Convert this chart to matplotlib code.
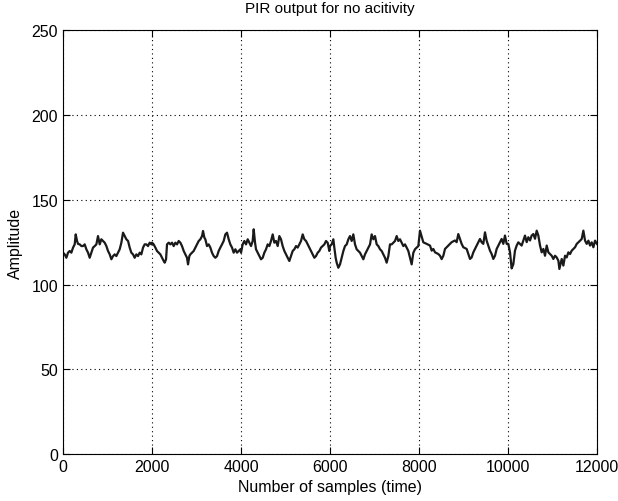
import matplotlib
matplotlib.use("Agg")
import matplotlib.pyplot as plt
import numpy as np

plt.rcParams['font.family'] = ['Liberation Sans', 'DejaVu Sans']

title = "PIR output for no acitivity"
xlabel = "Number of samples (time)"
ylabel = "Amplitude"
xticks = [0, 2000, 4000, 6000, 8000, 10000, 12000]
yticks = [0, 50, 100, 150, 200, 250]

# samples 0-2000
seg1_x = [0, 37, 75, 112, 150, 187, 225, 262, 285, 315, 337, 375, 412, 449, 487, 524, 562, 599, 637, 674,
          712, 749, 786, 824, 861, 899, 936, 974, 1011, 1049, 1086, 1124, 1161, 1198, 1236, 1273, 1311, 1348,
          1386, 1423, 1461, 1498, 1535, 1573, 1610, 1648, 1685, 1723, 1760, 1798, 1835, 1873, 1910, 1947, 1985]
seg1_y = [118.8, 117.8, 115.8, 118.8, 119.8, 118.8, 121.8, 123.7, 129.6, 125.7, 124.0, 123.7, 122.7, 122.7,
          123.7, 120.8, 118.8, 115.8, 118.8, 121.8, 122.7, 123.7, 128.6, 123.7, 126.7, 125.7, 124.7, 122.7,
          119.8, 117.8, 114.9, 116.8, 117.8, 116.8, 118.8, 120.8, 124.7, 130.6, 128.6, 126.7, 125.7, 121.8,
          118.8, 117.8, 115.8, 117.8, 116.8, 118.8, 117.8, 121.8, 123.7, 123.7, 122.7, 124.7, 123.7]

# samples 2000-4000
seg2_x = [2000, 2037, 2075, 2112, 2150, 2187, 2225, 2262, 2285, 2315, 2337, 2375, 2412, 2449, 2487, 2524,
          2562, 2599, 2637, 2674, 2712, 2749, 2786, 2809, 2839, 2861, 2899, 2936, 2974, 3011, 3049, 3086,
          3124, 3146, 3176, 3198, 3236, 3273, 3311, 3348, 3386, 3423, 3461, 3498, 3535, 3573, 3610, 3648,
          3685, 3723, 3760, 3798, 3835, 3873, 3910, 3947, 3985]
seg2_y = [124.7, 123.7, 121.8, 119.8, 118.8, 117.8, 115.8, 113.9, 112.9, 114.9, 123.7, 124.7, 123.7, 124.7,
          122.7, 124.7, 123.7, 125.7, 124.7, 122.7, 119.8, 117.8, 115.8, 111.9, 116.8, 117.8, 118.8, 119.8,
          121.8, 123.7, 125.7, 126.7, 128.6, 131.6, 127.7, 126.7, 122.7, 123.7, 121.8, 118.8, 116.8, 115.8,
          116.8, 119.8, 121.8, 123.7, 125.7, 129.6, 130.6, 126.7, 123.7, 121.8, 118.8, 120.8, 118.8, 119.8, 120.8]

# samples 4000-6000
seg3_x = [4000, 4037, 4075, 4112, 4150, 4187, 4225, 4262, 4285, 4315, 4337, 4375, 4412, 4449, 4487, 4524,
          4562, 4599, 4637, 4674, 4712, 4749, 4786, 4824, 4861, 4899, 4936, 4974, 5011, 5049, 5086, 5124,
          5161, 5198, 5236, 5273, 5311, 5348, 5386, 5423, 5461, 5498, 5535, 5573, 5610, 5648, 5685, 5723,
          5760, 5798, 5835, 5873, 5910, 5947, 5985]
seg3_y = [118.8, 123.7, 125.7, 123.7, 126.7, 124.7, 122.7, 125.7, 132.6, 124.7, 120.8, 118.8, 116.8, 114.9,
          115.8, 118.8, 120.8, 123.7, 122.7, 125.7, 129.6, 124.7, 125.7, 122.7, 128.6, 126.7, 122.7, 119.8,
          117.8, 115.8, 113.9, 116.8, 119.8, 120.8, 122.7, 121.8, 123.7, 125.7, 129.6, 126.7, 125.7, 123.7,
          121.8, 119.8, 117.8, 115.8, 116.8, 118.8, 119.8, 121.8, 122.7, 123.7, 125.7, 124.7, 119.8]

# samples 6000-8000
seg4_x = [6000, 6037, 6075, 6097, 6127, 6150, 6187, 6225, 6262, 6300, 6337, 6375, 6412, 6449, 6487, 6524,
          6562, 6599, 6637, 6674, 6712, 6749, 6786, 6824, 6861, 6899, 6936, 6974, 7011, 7049, 7086, 7124,
          7161, 7198, 7236, 7273, 7311, 7348, 7386, 7423, 7461, 7498, 7535, 7573, 7610, 7648, 7685, 7723,
          7760, 7798, 7835, 7873, 7910, 7947, 7985]
seg4_y = [122.7, 123.7, 126.7, 121.8, 115.8, 112.9, 109.9, 111.9, 115.8, 119.8, 122.7, 123.7, 126.7, 128.6,
          125.7, 129.6, 123.7, 120.8, 119.8, 118.8, 116.8, 114.9, 117.8, 119.8, 121.8, 123.7, 129.6, 126.7,
          128.6, 123.7, 122.7, 120.8, 119.8, 117.8, 115.8, 112.9, 116.8, 123.7, 123.7, 124.7, 125.7, 128.6,
          125.7, 126.7, 124.7, 122.7, 123.7, 121.8, 119.8, 115.8, 111.9, 118.8, 120.8, 121.8, 122.7]

# samples 8000-10000
seg5_x = [8022, 8097, 8172, 8247, 8285, 8322, 8360, 8434, 8472, 8509, 8547, 8584, 8659, 8734, 8808, 8846,
          8883, 8921, 8958, 8996, 9071, 9108, 9146, 9183, 9221, 9258, 9296, 9333, 9370, 9408, 9445, 9483,
          9520, 9558, 9595, 9633, 9670, 9708, 9745, 9783, 9820, 9857, 9895, 9932, 9970]
seg5_y = [131.8, 124.9, 124.0, 123.0, 120.0, 121.0, 119.0, 118.0, 117.0, 115.0, 117.0, 121.0, 123.0, 125.0,
          126.0, 125.0, 129.8, 126.9, 124.0, 122.0, 121.0, 118.0, 115.1, 116.0, 119.0, 121.0, 123.0, 124.9,
          126.9, 124.9, 124.0, 130.8, 125.9, 123.0, 120.0, 118.0, 115.1, 117.0, 121.0, 123.0, 124.9, 126.9,
          124.0, 128.9, 124.0]

# samples 10000-12000
seg6_x = [10007, 10045, 10082, 10120, 10157, 10195, 10232, 10307, 10345, 10382, 10420, 10457, 10495, 10532,
          10570, 10607, 10645, 10682, 10720, 10757, 10795, 10832, 10870, 10907, 10944, 10982, 11019, 11057,
          11094, 11132, 11155, 11207, 11244, 11282, 11319, 11357, 11395, 11432, 11507, 11545, 11582, 11657,
          11694, 11732, 11769, 11807, 11844, 11881, 11919, 11956, 12000]
seg6_y = [124.0, 119.0, 109.5, 112.0, 120.0, 123.0, 124.9, 123.0, 125.9, 128.9, 125.0, 127.9, 126.0, 128.9,
          129.8, 127.0, 131.8, 128.9, 123.0, 119.0, 121.0, 117.0, 123.0, 119.0, 118.0, 117.0, 115.1, 117.0,
          116.0, 114.1, 109.2, 115.1, 111.2, 117.0, 116.0, 119.0, 118.0, 120.0, 122.0, 124.0, 124.9, 126.9,
          131.8, 125.9, 124.0, 125.9, 123.0, 124.9, 122.0, 125.9, 124.0]

samples = seg1_x + seg2_x + seg3_x + seg4_x + seg5_x + seg6_x
amplitude = seg1_y + seg2_y + seg3_y + seg4_y + seg5_y + seg6_y

fig = plt.figure(figsize=(6.18, 5.02), dpi=100)
ax = fig.add_axes([0.102, 0.0936, 0.864, 0.844])
ax.plot(samples, amplitude, color='#1a1a1a', lw=1.6)

ax.set_xlim(0, 12000)
ax.set_ylim(0, 250)
ax.set_xticks(xticks)
ax.set_yticks(yticks)
ax.grid(True, color='black', linestyle=(0, (1, 3)), linewidth=0.8)
ax.tick_params(direction='in', top=True, right=True, length=5, labelsize=11.5, width=0.8)
for s in ax.spines.values():
    s.set_linewidth(0.8)
ax.set_title(title, fontsize=11, pad=13)
ax.set_xlabel(xlabel, fontsize=11.5, labelpad=4)
ax.set_ylabel(ylabel, fontsize=11.5, labelpad=6)

fig.savefig("out.png", dpi=100)
